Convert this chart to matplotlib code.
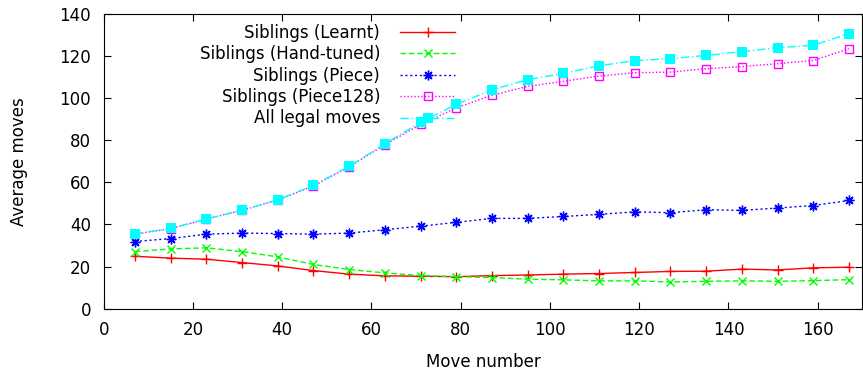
import matplotlib
matplotlib.use("Agg")
import matplotlib.pyplot as plt

plt.rcParams['font.family'] = ['DejaVu Sans']

# Data
move_number = [7, 15, 23, 31, 39, 47, 55, 63, 71, 79, 87, 95, 103, 111, 119, 127, 135, 143, 151, 159, 167]

learnt = [24.9, 24.0, 23.5, 21.9, 20.3, 18.1, 16.4, 15.6, 15.4, 15.2, 15.7, 16.0, 16.4, 16.7, 17.2, 17.7, 17.8, 18.8, 18.4, 19.4, 19.7]
hand_tuned = [27.1, 28.4, 28.9, 27.1, 24.6, 21.0, 18.6, 17.0, 15.7, 15.2, 14.8, 14.0, 13.7, 13.2, 13.2, 12.7, 13.0, 13.2, 13.0, 13.3, 13.8]
piece = [31.9, 33.3, 35.4, 35.9, 35.7, 35.4, 35.9, 37.5, 39.2, 41.0, 42.9, 42.9, 43.8, 44.8, 46.0, 45.6, 47.0, 46.7, 47.8, 49.0, 51.4]
piece128 = [35.4, 38.0, 42.5, 46.8, 51.6, 58.3, 67.4, 77.9, 87.5, 95.4, 101.4, 105.6, 108.0, 110.5, 112.1, 112.4, 114.0, 115.0, 116.4, 117.9, 123.5]
all_legal = [35.6, 38.1, 42.6, 46.8, 51.7, 58.6, 67.6, 78.3, 88.6, 97.0, 104.0, 108.8, 111.8, 115.4, 117.8, 118.8, 120.3, 122.1, 124.0, 125.1, 130.7]

fig = plt.figure(figsize=(8.63, 3.71), dpi=100)
ax = fig.add_axes([0.1202, 0.168, 0.879, 0.7943])

ax.plot(move_number, learnt, color='#ff0000', linestyle='-', linewidth=1,
        marker='+', markersize=7, markeredgewidth=1, label='Siblings (Learnt)')
ax.plot(move_number, hand_tuned, color='#00ff00', linestyle=(0, (4, 2)), linewidth=1,
        marker='x', markersize=5.5, markeredgewidth=1, label='Siblings (Hand-tuned)')
ax.plot(move_number, piece, color='#0000ff', linestyle=(0, (1.5, 2)), linewidth=1,
        marker=(8, 2, 0), markersize=7, markeredgewidth=1, label='Siblings (Piece)')
ax.plot(move_number, piece128, color='#ff00ff', linestyle=(0, (1, 1.5)), linewidth=1,
        marker='s', markersize=6, markerfacecolor='none', markeredgewidth=1,
        label='Siblings (Piece128)')
ax.plot(move_number, all_legal, color='#00ffff', linestyle=(0, (6, 2, 1, 2)), linewidth=1,
        marker='s', markersize=6.5, markeredgewidth=0, label='All legal moves')

ax.set_xlim(0, 170)
ax.set_ylim(0, 140)
ax.set_xticks(range(0, 161, 20))
ax.set_yticks(range(0, 141, 20))
ax.tick_params(direction='in', length=5, width=0.8, top=True, right=True,
               labelsize=12)
ax.tick_params(axis='x', pad=9)
ax.tick_params(axis='y', pad=9)
ax.set_xlabel("Move number", fontsize=12, labelpad=10)
ax.set_ylabel("Average moves", fontsize=12, labelpad=23)

ax.legend(loc='upper right', bbox_to_anchor=(455 / 863, 1 - 24 / 371),
          bbox_transform=fig.transFigure, frameon=False, markerfirst=False,
          fontsize=12, handlelength=3.3, handletextpad=1.2,
          labelspacing=0.2, borderpad=0, borderaxespad=0)

fig.savefig("out.png", dpi=100)
